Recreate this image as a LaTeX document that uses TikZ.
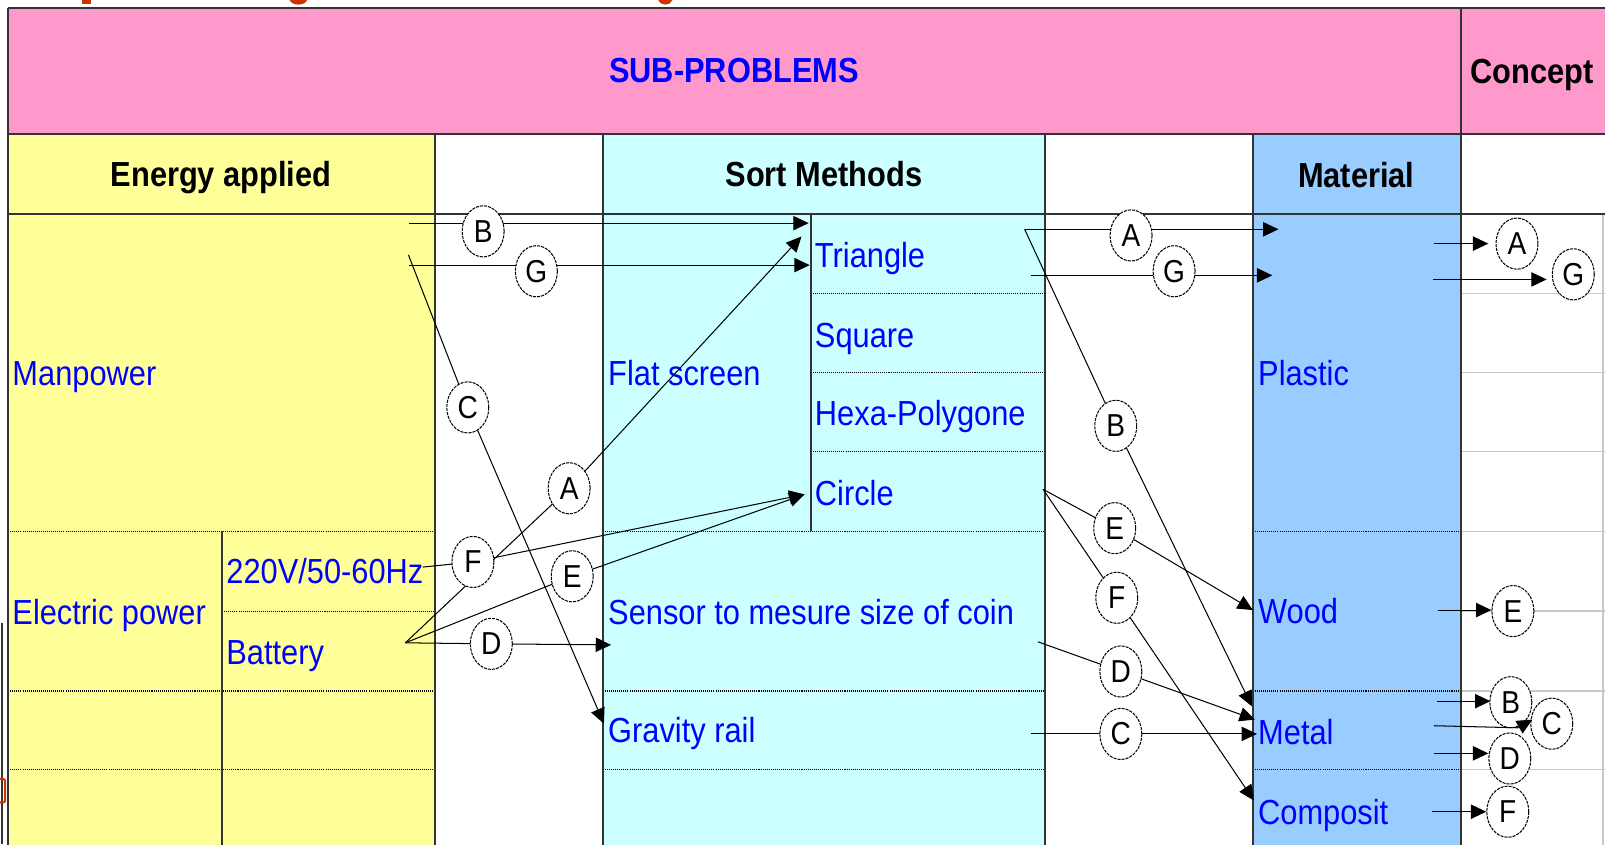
\documentclass[tikz,border=0pt]{standalone}
\usepackage{fontspec}
\setmainfont{Liberation Sans}[FakeStretch=0.885]
\usetikzlibrary{arrows.meta,shapes.geometric}

\definecolor{hdrpink}{HTML}{FF99CC}
\definecolor{cellyellow}{HTML}{FFFF99}
\definecolor{cellcyan}{HTML}{CCFFFF}
\definecolor{cellblue}{HTML}{99CCFF}
\definecolor{txtblue}{HTML}{0000FF}
\definecolor{rulegray}{HTML}{333333}
\definecolor{faint}{HTML}{C8C8C8}
\definecolor{titlered}{HTML}{CC3300}

\tikzset{
  tablerule/.style={draw=rulegray, line width=1.6pt},
  dotrule/.style={draw=black, line width=1.1pt, dash pattern=on 1pt off 1pt},
  faintrule/.style={draw=faint, line width=1.2pt},
  celltext/.style={anchor=base west, inner sep=0pt, text=txtblue, font=\fontsize{34}{40}\selectfont},
  hdrtext/.style={anchor=base, inner sep=0pt, font=\fontsize{34}{40}\selectfont\bfseries},
  letterbox/.style={ellipse, draw=black, fill=white, line width=1pt,
    dash pattern=on 3pt off 1pt, minimum width=41pt, minimum height=50pt,
    inner sep=0pt, font=\fontsize{31}{36}\selectfont},
  link/.style={draw=black, line width=1pt},
  linkarrow/.style={link, -{Triangle[length=15pt,width=14pt]}},
}

\begin{document}
\begin{tikzpicture}[x=1pt,y=-1pt]
\useasboundingbox (0,0) rectangle (1568,825);
\clip (0,0) rectangle (1568,825);

% ---------- cell fills ----------
\fill[hdrpink]    (8,8)     rectangle (1600,131);
\fill[cellyellow] (8,131)   rectangle (425,860);
\fill[cellcyan]   (589,131) rectangle (1021,860);
\fill[cellblue]   (1224,131) rectangle (1427,860);

% ---------- light rows of the concept column ----------
\foreach \y in {287,364,441,519,597,675,752}
  \draw[faintrule] (1427,\y) -- (1600,\y);
\draw[faintrule] (1566,209) -- (1566,860);

% ---------- dotted row separators ----------
\foreach \y in {519,675,752} \draw[dotrule] (8,\y) -- (425,\y);
\draw[dotrule] (217,597) -- (425,597);
\foreach \y in {287,364,441} \draw[dotrule] (792,\y) -- (1021,\y);
\foreach \y in {519,675,752} \draw[dotrule] (589,\y) -- (1021,\y);
\foreach \y in {519,675,752} \draw[dotrule] (1224,\y) -- (1427,\y);

% ---------- solid table rules ----------
\draw[tablerule] (8,8) -- (1600,8);
\draw[tablerule] (8,131) -- (1600,131);
\draw[tablerule] (8,209) -- (1600,209);
\draw[tablerule] (8,8) -- (8,860);
\draw[tablerule] (1427,8) -- (1427,860);
\foreach \x in {425,589,1021,1224} \draw[tablerule] (\x,131) -- (\x,860);
\draw[tablerule] (217,519) -- (217,860);
\draw[tablerule] (792,209) -- (792,519);

% ---------- fragments of the page around the table ----------
\fill[titlered] (80,0) rectangle (89,4);
\fill[titlered] (283,0) .. controls (285,6) and (298,6) .. (300,0) -- cycle;
\fill[titlered] (643,0) .. controls (645,6) and (655,6) .. (657,0) -- cycle;
\draw[black!80, line width=1.8pt] (2,609) -- (2,825);
\draw[titlered, line width=2pt] (0,761) -- (1,761) .. controls (5,761) .. (5,766)
  -- (5,779) .. controls (5,784) .. (1,784) -- (0,784);

% ---------- headers ----------
\node[hdrtext, text=txtblue] (subp) at (717,81) {SUB-PROBLEMS};
\node[hdrtext] (concept)  at (1497,82)  {Concept};
\node[hdrtext] (energy)   at (216,182)  {Energy applied};
\node[hdrtext] (sort)     at (805,182)  {Sort Methods};
\node[hdrtext] (material) at (1325,183) {Material};

% ---------- cell texts ----------
\node[celltext] (manpower) at (12,377)  {Manpower};
\node[celltext] (electric) at (12,610)  {Electric power};
\node[celltext] (mainsv)   at (221,570) {220V/50-60Hz};
\node[celltext] (battery)  at (221,649) {Battery};
\node[celltext] (flat)     at (594,377) {Flat screen};
\node[celltext] (triangle) at (796,261) {Triangle};
\node[celltext] (square)   at (796,339) {Square};
\node[celltext] (hexa)     at (796,416) {Hexa-Polygone};
\node[celltext] (circle)   at (796,494) {Circle};
\node[celltext] (sensor)   at (594,610) {Sensor to mesure size of coin};
\node[celltext] (gravity)  at (594,725) {Gravity rail};
\node[celltext] (plastic)  at (1229,377) {Plastic};
\node[celltext] (wood)     at (1229,609) {Wood};
\node[celltext] (metal)    at (1229,727) {Metal};
\node[celltext] (composit) at (1229,805) {Composit};

% ---------- connector ends ----------
% energy -> sort methods
\coordinate (lB0) at (400,218);  \coordinate (lB1) at (790,218);
\coordinate (lG0) at (400,259);  \coordinate (lG1) at (791,259);
\coordinate (lC0) at (399,249);  \coordinate (lC1) at (590,707);
\coordinate (bat) at (396,628);  \coordinate (mains) at (413,554);
\coordinate (lA1) at (783,231);  \coordinate (lEF1) at (786,483);
\coordinate (lD1) at (597,630);
% sort methods -> material
\coordinate (rAB0) at (1001,224); \coordinate (rA1) at (1249,224);
\coordinate (rB1) at (1223,690);
\coordinate (rG0) at (1007,269);  \coordinate (rG1) at (1243,269);
\coordinate (rEF0) at (1019,478); \coordinate (rE1) at (1224,596);
\coordinate (rF1) at (1225,782);
\coordinate (rD0) at (1014,627);  \coordinate (rD1) at (1226,703);
\coordinate (rC0) at (1007,717);  \coordinate (rC1) at (1228,717);
% material -> concept
\coordinate (kA0) at (1401,238);  \coordinate (kA1) at (1454,238);
\coordinate (kG0) at (1400,273);  \coordinate (kG1) at (1511,273);
\coordinate (kE0) at (1405,596);  \coordinate (kE1) at (1457,596);
\coordinate (kB0) at (1404,685);  \coordinate (kB1) at (1456,685);
\coordinate (kC0) at (1401,709);  \coordinate (kCb) at (1483,711);
\coordinate (kC1) at (1497,703);
\coordinate (kD0) at (1401,736);  \coordinate (kD1) at (1454,736);
\coordinate (kF0) at (1399,793);  \coordinate (kF1) at (1452,793);

% letter positions
\coordinate (pB1) at (472,226);  \coordinate (pG1) at (524,265);
\coordinate (pC1) at (457,398);  \coordinate (pA1) at (556,477);
\coordinate (pF1) at (462,549);  \coordinate (pE1) at (559,563);
\coordinate (pD1) at (480,629);
\coordinate (pA2) at (1105,230); \coordinate (pG2) at (1147,265);
\coordinate (pB2) at (1090,416); \coordinate (pE2) at (1089,516);
\coordinate (pF2) at (1091,584); \coordinate (pD2) at (1095,656);
\coordinate (pC2) at (1095,717);
\coordinate (pA3) at (1482,238); \coordinate (pG3) at (1537,268);
\coordinate (pE3) at (1478,597); \coordinate (pB3) at (1476,686);
\coordinate (pC3) at (1516,707); \coordinate (pD3) at (1475,741);
\coordinate (pF3) at (1473,793);

% ---------- connectors ----------
\draw[linkarrow] (lB0) -- (lB1);
\draw[linkarrow] (lG0) -- (lG1);
\draw[linkarrow] (lC0) -- (pC1) -- (lC1);
\draw[linkarrow] (bat) -- (pA1) -- (lA1);
\draw[linkarrow] (mains) -- (pF1) -- (lEF1);
\draw[linkarrow] (bat) -- (pE1) -- (lEF1);
\draw[linkarrow] (bat) -- (pD1) -- (lD1);

\draw[linkarrow] (rAB0) -- (rA1);
\draw[linkarrow] (rAB0) -- (pB2) -- (rB1);
\draw[linkarrow] (rG0) -- (rG1);
\draw[linkarrow] (rEF0) -- (pE2) -- (rE1);
\draw[linkarrow] (rEF0) -- (pF2) -- (rF1);
\draw[linkarrow] (rD0) -- (pD2) -- (rD1);
\draw[linkarrow] (rC0) -- (pC2) -- (rC1);

\draw[linkarrow] (kA0) -- (kA1);
\draw[linkarrow] (kG0) -- (kG1);
\draw[linkarrow] (kE0) -- (kE1);
\draw[linkarrow] (kB0) -- (kB1);
\draw[linkarrow] (kD0) -- (kD1);
\draw[linkarrow] (kF0) -- (kF1);

% ---------- letter tags ----------
\node[letterbox] (tB1) at (pB1) {B};
\node[letterbox] (tG1) at (pG1) {G};
\node[letterbox] (tC1) at (pC1) {C};
\node[letterbox] (tA1) at (pA1) {A};
\node[letterbox] (tF1) at (pF1) {F};
\node[letterbox] (tE1) at (pE1) {E};
\node[letterbox] (tD1) at (pD1) {D};

\node[letterbox] (tA2) at (pA2) {A};
\node[letterbox] (tG2) at (pG2) {G};
\node[letterbox] (tB2) at (pB2) {B};
\node[letterbox] (tE2) at (pE2) {E};
\node[letterbox] (tF2) at (pF2) {F};
\node[letterbox] (tD2) at (pD2) {D};
\node[letterbox] (tC2) at (pC2) {C};

\node[letterbox] (tA3) at (pA3) {A};
\node[letterbox] (tG3) at (pG3) {G};
\node[letterbox] (tE3) at (pE3) {E};
\node[letterbox] (tB3) at (pB3) {B};
\node[letterbox] (tC3) at (pC3) {C};
\node[letterbox] (tD3) at (pD3) {D};
\node[letterbox] (tF3) at (pF3) {F};

% the C link of the concept column runs between B and D
\draw[linkarrow] (kC0) -- (kCb) -- (kC1);
\end{tikzpicture}
\end{document}
